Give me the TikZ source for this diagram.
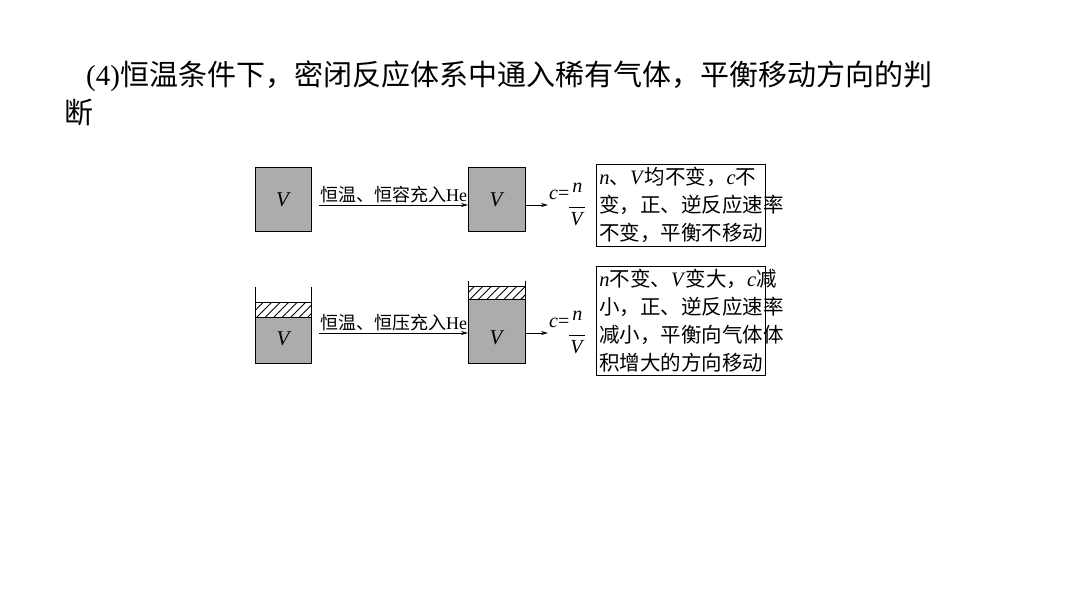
\documentclass[tikz,border=0pt]{standalone}
\usepackage{fontspec}
\setmainfont{Liberation Serif}
\newfontfamily\cjk{Noto Sans CJK SC}
\usetikzlibrary{patterns.meta,arrows.meta,calc}
\newcommand\zh[1]{{\cjk #1}}
\newcommand\iv[1]{\textit{#1}}
\newcommand\cfrac[0]{\iv{c}=\raisebox{-0.55em}{\begin{tabular}{@{}c@{}}\iv{n}\\[-0.35em]\rule{0.8em}{0.6pt}\\[-0.2em]\iv{V}\end{tabular}}}
\begin{document}
\begin{tikzpicture}[x=1pt,y=-1pt,
  gbox/.style={fill=gray!65,draw=black,line width=0.9pt},
  hatch/.style={draw=black,line width=0.9pt,fill=white,pattern={Lines[angle=45,distance=6pt,line width=0.9pt]}},
  arr/.style={-{Stealth[length=7pt,width=4pt]},line width=0.7pt},
  lab/.style={font=\fontsize{18}{20}\selectfont,inner sep=1pt},
  tbox/.style={draw=black,line width=0.9pt,font=\fontsize{20.5}{28}\selectfont,align=left,inner sep=3pt,anchor=north west,text width=163pt}]
\useasboundingbox (0,0) rectangle (1080,608);
\node[anchor=west,font=\fontsize{29}{32}\selectfont,inner sep=0pt] (t1) at (86,76) {(4)\zh{恒温条件下，密闭反应体系中通入稀有气体，平衡移动方向的判}};
\node[anchor=west,font=\fontsize{29}{32}\selectfont,inner sep=0pt] (t2) at (64,113) {\zh{断}};
% row 1
\node[gbox,minimum width=56pt,minimum height=64pt,anchor=north west,font=\fontsize{21}{22}\selectfont] (b1) at (255,167) {\iv{V}};
\node[gbox,minimum width=57pt,minimum height=64pt,anchor=north west,font=\fontsize{21}{22}\selectfont] (b2) at (468,167) {\iv{V}};
\coordinate (a1s) at (319,205);
\coordinate (a1e) at (468,205);
\coordinate (a2s) at (525,205);
\draw[arr] (a1s) -- (a1e) node[lab,midway,above=1pt] {\zh{恒温、恒容充入}He};
\node[font=\fontsize{20}{22}\selectfont,anchor=west,inner sep=1pt] (f1) at (548,205) {\cfrac};
\draw[arr] (a2s) -- (f1.west);
\node[tbox] (tb1) at (596,164) {\iv{n}\zh{、}\iv{V}\zh{均不变，}\iv{c}\zh{不}\\\zh{变，正、逆反应速率}\\\zh{不变，平衡不移动}};
% row 2
\fill[gray!65] (255,317) rectangle (311,363);
\draw[hatch] (255,302) rectangle (311,317);
\draw[line width=0.9pt] (255,287) -- (255,363) -- (311,363) -- (311,287);
\fill[gray!65] (468,299) rectangle (525,363);
\draw[hatch] (468,286) rectangle (525,299);
\draw[line width=0.9pt] (468,281) -- (468,363) -- (525,363) -- (525,281);
\node[font=\fontsize{21}{22}\selectfont] (v3) at (284,339) {\iv{V}};
\node[font=\fontsize{21}{22}\selectfont] (v4) at (497,338) {\iv{V}};
\coordinate (b3e) at (319,333);
\coordinate (b4w) at (468,333);
\coordinate (b4e) at (525,333);
\draw[arr] (b3e) -- (b4w) node[lab,midway,above=1pt] {\zh{恒温、恒压充入}He};
\node[font=\fontsize{20}{22}\selectfont,anchor=west,inner sep=1pt] (f2) at (548,333) {\cfrac};
\draw[arr] (b4e) -- (f2.west);
\node[tbox] (tb2) at (596,266) {\iv{n}\zh{不变、}\iv{V}\zh{变大，}\iv{c}\zh{减}\\\zh{小，正、逆反应速率}\\\zh{减小，平衡向气体体}\\\zh{积增大的方向移动}};
\end{tikzpicture}
\end{document}
